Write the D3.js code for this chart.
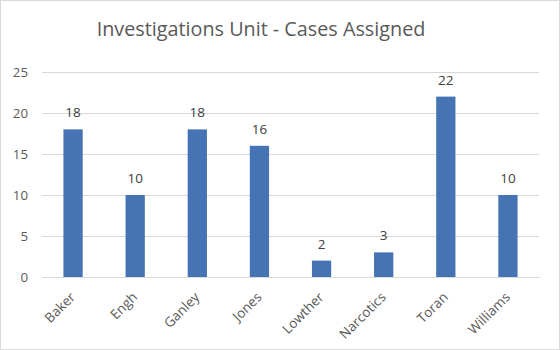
<!DOCTYPE html>
<html><head><meta charset="utf-8">
<script src="https://cdn.jsdelivr.net/npm/d3@7"></script>
<style>body{margin:0;background:#fff}svg{display:block}</style>
</head><body>
<script>
const categories = ["Baker","Engh","Ganley","Jones","Lowther","Narcotics","Toran","Williams"];
const cases = [18,10,18,16,2,3,22,10];
const yTicks = [0,5,10,15,20,25];
const title = "Investigations Unit - Cases Assigned";

const W=560,H=350;
const svg=d3.select("body").append("svg").attr("width",W).attr("height",H);
svg.append("rect").attr("x",0.5).attr("y",0.5).attr("width",W-1).attr("height",H-1)
  .attr("fill","#fff").attr("stroke","#d9d9d9");
const font="'Open Sans', 'Liberation Sans', sans-serif";
const m={left:42,right:21,top:72,bottom:73};
const x=d3.scaleBand().domain(categories).range([m.left,W-m.right]).padding(0);
const y=d3.scaleLinear().domain([0,25]).range([H-m.bottom,m.top]);

svg.append("text").attr("x",261).attr("y",36).attr("text-anchor","middle")
  .attr("font-family",font).attr("font-size",19.8).attr("fill","#595959").text(title);

const ya=svg.append("g").attr("transform",`translate(${m.left},0)`)
  .call(d3.axisLeft(y).tickValues(yTicks).tickSize(-(W-m.left-m.right)).tickPadding(14));
ya.select(".domain").remove();
ya.selectAll(".tick line").attr("stroke","#d9d9d9");
ya.selectAll(".tick text").attr("font-family",font).attr("font-size",13.3).attr("fill","#595959");

const bw=x.bandwidth()*0.31;
svg.selectAll("rect.bar").data(categories).join("rect").attr("class","bar")
  .attr("x",d=>x(d)+x.bandwidth()/2-bw/2).attr("width",bw)
  .attr("y",(d,i)=>y(cases[i])).attr("height",(d,i)=>y(0)-y(cases[i]))
  .attr("fill","#4673b3");

svg.selectAll("text.lbl").data(categories).join("text").attr("class","lbl")
  .attr("x",d=>x(d)+x.bandwidth()/2).attr("y",(d,i)=>y(cases[i])-12)
  .attr("text-anchor","middle").attr("font-family",font).attr("font-size",13.5)
  .attr("fill","#404040").text((d,i)=>cases[i]);

const xa=svg.append("g").attr("transform",`translate(0,${y(0)})`)
  .call(d3.axisBottom(x).tickSize(0).tickPadding(0));
xa.select(".domain").attr("stroke","#d9d9d9");
xa.selectAll(".tick text").attr("font-family",font).attr("font-size",13.5).attr("fill","#595959")
  .attr("text-anchor","end").attr("dy",0)
  .attr("transform","translate(3,21) rotate(-45)");
</script>
</body></html>
